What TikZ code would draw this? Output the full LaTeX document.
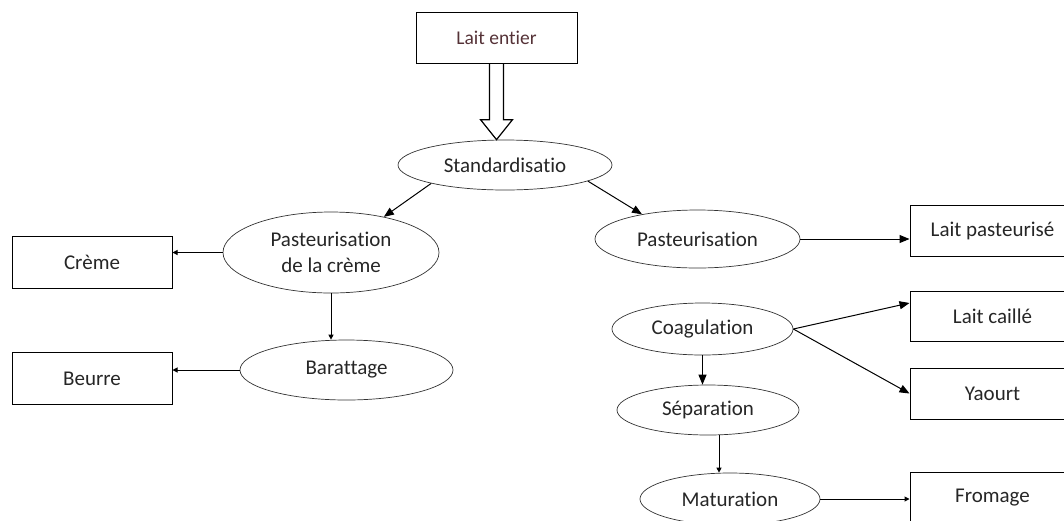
\documentclass[tikz,border=0pt]{standalone}
\usepackage{fontspec}
\setmainfont{Carlito}[Ligatures=NoCommon]
\usetikzlibrary{shapes.geometric,arrows.meta}

\begin{document}
\begin{tikzpicture}[x=1pt,y=-1pt,
    box/.style={draw,line width=1pt,minimum width=160pt,minimum height=52pt,text=black!85,font=\fontsize{21}{26}\selectfont},
    oval/.style={draw,ellipse,line width=0.7pt,draw=black!80,inner sep=0pt,align=center,text=black!85,font=\fontsize{21}{26}\selectfont},
    arr/.style={line width=1pt,-{Triangle[length=10pt,width=8pt]}},
    sarr/.style={line width=1pt,-{Triangle[length=5pt,width=5pt]}}]
    \useasboundingbox (0,0) rectangle (1064,520);
    % nodes
    \node[box,minimum width=161pt,minimum height=51pt,text={rgb,255:red,85;green,50;blue,55},font=\fontsize{19.5}{22}\selectfont] (lait) at (496.5,37.5) {Lait entier};
    \node[oval,minimum width=214pt,minimum height=50pt] (stand) at (505,165) {Standardisatio};
    \node[oval,minimum width=216pt,minimum height=81pt] (pcreme) at (331,252.5) {Pasteurisation\\de la crème};
    \node[oval,minimum width=205pt,minimum height=58pt] (past) at (697.5,239) {Pasteurisation};
    \node[box] (creme) at (92,262) {Crème};
    \node[oval,minimum width=213pt,minimum height=60pt] (barat) at (346.5,370) {Barattage};
    \node[box] (beurre) at (92,378.5) {Beurre};
    \node[box,minimum width=165pt,minimum height=51pt] (lpast) at (992.5,230.5) {Lait pasteurisé};
    \node[oval,minimum width=181pt,minimum height=52pt] (coag) at (702.5,329) {Coagulation};
    \node[box,minimum width=165pt,minimum height=50pt] (caille) at (992.5,316) {Lait caillé};
    \node[box,minimum width=165pt,minimum height=51pt] (yaourt) at (992.5,393.5) {Yaourt};
    \node[oval,minimum width=182pt,minimum height=50pt] (sep) at (708,410) {Séparation};
    \node[oval,minimum width=180pt,minimum height=52pt] (mat) at (730,499) {Maturation};
    \node[box,minimum width=165pt] (fromage) at (992.5,498) {Fromage};
    % hollow arrow
    \coordinate (tip) at (lait.south |- stand.north);
    \draw[line width=1.2pt] ([xshift=-7pt]lait.south) -- ([xshift=-7pt,yshift=20pt]tip) -- ([xshift=-16pt,yshift=20pt]tip) -- (tip) -- ([xshift=16pt,yshift=20pt]tip) -- ([xshift=7pt,yshift=20pt]tip) -- ([xshift=7pt]lait.south);
    % connectors
    \draw[arr] (stand.194) -- (pcreme.34);
    \draw[arr] (stand.-11) -- (past.156);
    \draw[sarr] (pcreme.west) -- (pcreme.west -| creme.east);
    \draw[sarr] (pcreme.south) -- (pcreme.south |- barat.north);
    \draw[sarr] (barat.west) -- (barat.west -| beurre.east);
    \draw[arr] (past.east) -- (past.east -| lpast.west);
    \draw[arr] (coag.east) -- ([yshift=13pt]caille.west);
    \draw[arr] (coag.east) -- (yaourt.west);
    \draw[arr] (coag.south) -- (coag.south |- sep.north);
    \draw[sarr] ([xshift=11pt]sep.south) -- ([xshift=11pt]sep.south |- mat.north);
    \draw[sarr] (mat.east) -- (mat.east -| fromage.west);
\end{tikzpicture}
\end{document}
